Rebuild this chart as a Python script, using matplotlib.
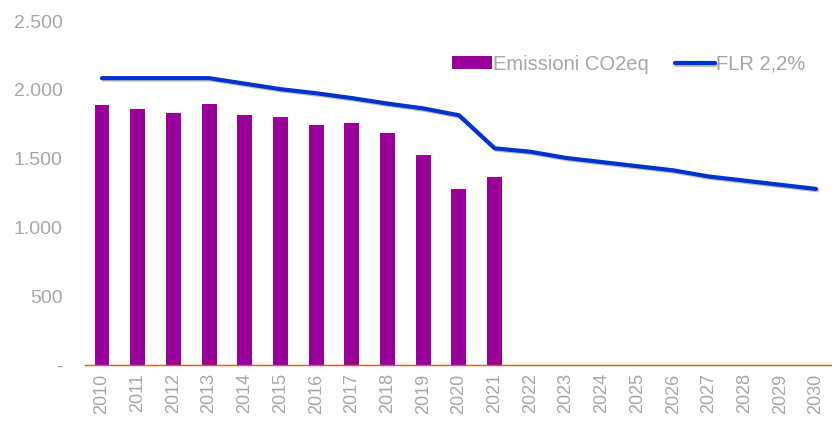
import matplotlib
matplotlib.use("Agg")
import matplotlib.pyplot as plt
import matplotlib.patheffects as pe
from matplotlib.ticker import FuncFormatter

plt.rcParams['font.family'] = ['Liberation Sans', 'DejaVu Sans']

# dati
anni = [str(a) for a in range(2010, 2031)]
emissioni = [1890, 1860, 1830, 1900, 1815, 1800, 1745, 1760, 1685, 1525, 1280, 1365]
flr = [2085, 2085, 2085, 2085, 2045, 2005, 1975, 1940, 1900, 1865, 1815,
       1575, 1550, 1505, 1475, 1445, 1415, 1370, 1340, 1310, 1280]

grigio = '#A6A6A6'

fig = plt.figure(figsize=(8.32, 4.21), dpi=100)
ax = fig.add_axes([0.102, 0.133, 0.898, 0.817])

x_bar = range(len(emissioni))
x_line = range(len(flr))
barre = ax.bar(x_bar, emissioni, width=0.42, color='#990099', label='Emissioni CO2eq', zorder=2)
linea, = ax.plot(x_line, flr, color='#0033CC', linewidth=3, solid_capstyle='round',
                 label='FLR 2,2%', zorder=3,
                 path_effects=[pe.SimpleLineShadow(offset=(1, -1), alpha=0.25), pe.Normal()])

ax.set_xlim(-0.48, len(anni) - 0.55)
ax.set_ylim(0, 2500)
ax.set_yticks([0, 500, 1000, 1500, 2000, 2500])
ax.yaxis.set_major_formatter(FuncFormatter(
    lambda v, p: '-' if v == 0 else f'{int(v):,}'.replace(',', '.')))
ax.set_xticks(list(x_line))
ax.set_xticklabels(anni, rotation=90)

for s in ['top', 'right', 'left']:
    ax.spines[s].set_visible(False)
ax.spines['bottom'].set_color('#C0652A')
ax.spines['bottom'].set_linewidth(1)
ax.tick_params(axis='y', length=0, labelsize=14, colors=grigio, pad=16)
ax.tick_params(axis='x', length=0, labelsize=13, colors=grigio, pad=6)

leg = ax.legend([barre, linea], ['Emissioni CO2eq', 'FLR 2,2%'],
                loc='upper right', bbox_to_anchor=(0.975, 0.925), ncol=2, frameon=False,
                fontsize=14.5, handlelength=2.0, handleheight=0.6, handletextpad=0.05,
                columnspacing=1.3, borderaxespad=0)
for t in leg.get_texts():
    t.set_color(grigio)

fig.savefig('out.png', dpi=100)
